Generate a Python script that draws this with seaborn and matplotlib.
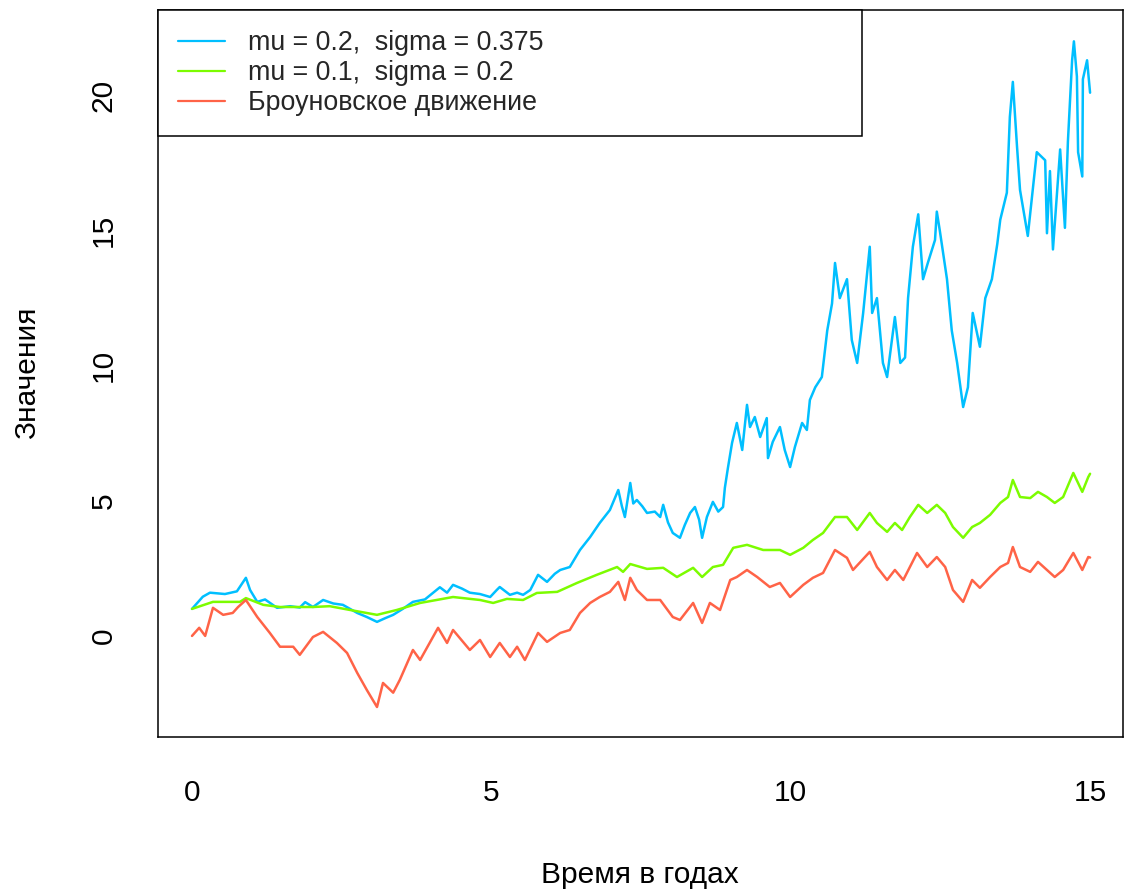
import matplotlib
matplotlib.use("Agg")
import matplotlib.pyplot as plt
import numpy as np
import pandas as pd
import seaborn as sns

# Geometric Brownian motion, mu = 0.2, sigma = 0.375
t_fast = [0.00, 0.18, 0.30, 0.55, 0.75, 0.90, 0.97, 1.09, 1.22, 1.42, 1.64, 1.80, 1.89, 2.02,
          2.19, 2.36, 2.52, 2.76, 2.92, 3.09, 3.22, 3.36, 3.52, 3.69, 3.89, 4.14, 4.26, 4.36,
          4.51, 4.64, 4.81, 4.98, 5.09, 5.14, 5.31, 5.43, 5.53, 5.65, 5.78, 5.93, 6.06, 6.15,
          6.31, 6.48, 6.65, 6.81, 6.98, 7.12, 7.18, 7.23, 7.32, 7.37, 7.43, 7.52, 7.60, 7.73,
          7.82, 7.87, 7.95, 8.03, 8.15, 8.23, 8.32, 8.40, 8.47, 8.52, 8.60, 8.70, 8.79, 8.87,
          8.90, 8.95, 9.02, 9.10, 9.19, 9.27, 9.32, 9.40, 9.49, 9.60, 9.62, 9.70, 9.82, 9.90,
          9.99, 10.07, 10.19, 10.27, 10.32, 10.41, 10.52, 10.61, 10.69, 10.74, 10.82, 10.94,
          11.02, 11.11, 11.21, 11.32, 11.36, 11.44, 11.54, 11.61, 11.74, 11.83, 11.91, 11.96,
          12.04, 12.13, 12.21, 12.29, 12.41, 12.44, 12.49, 12.61, 12.69, 12.78, 12.88, 12.96,
          13.04, 13.16, 13.25, 13.36, 13.45, 13.50, 13.61, 13.66, 13.71, 13.78, 13.83, 13.96,
          14.11, 14.25, 14.28, 14.33, 14.38, 14.50, 14.58, 14.63, 14.70, 14.73, 14.78, 14.80,
          14.87, 14.88, 14.95, 15.00]
v_fast = [1.00, 1.45, 1.60, 1.55, 1.65, 2.15, 1.70, 1.26, 1.35, 1.04, 1.10, 1.05, 1.25, 1.07,
          1.33, 1.20, 1.15, 0.85, 0.70, 0.52, 0.65, 0.78, 1.00, 1.26, 1.35, 1.80, 1.60, 1.89,
          1.75, 1.60, 1.55, 1.44, 1.70, 1.81, 1.52, 1.60, 1.52, 1.70, 2.26, 2.00, 2.30, 2.44,
          2.55, 3.18, 3.66, 4.18, 4.66, 5.40, 4.80, 4.40, 5.66, 4.90, 5.03, 4.80, 4.55, 4.60,
          4.40, 4.85, 4.20, 3.81, 3.63, 4.10, 4.55, 4.77, 4.30, 3.63, 4.40, 4.96, 4.60, 4.77,
          5.48, 6.20, 7.14, 7.88, 6.88, 8.55, 7.73, 8.10, 7.36, 8.06, 6.58, 7.18, 7.73, 6.88,
          6.25, 6.99, 7.88, 7.62, 8.73, 9.20, 9.58, 11.30, 12.30, 13.80, 12.50, 13.20,
          10.95, 10.10, 11.95, 14.40, 11.95, 12.50, 10.10, 9.58, 11.80, 10.10, 10.30, 12.50,
          14.40, 15.60, 13.20, 13.80, 14.65, 15.70, 15.00, 13.20, 11.30, 10.10, 8.47, 9.20,
          11.95, 10.70, 12.50, 13.20, 14.50, 15.40, 16.40, 19.20, 20.50, 18.10, 16.50, 14.80,
          17.90, 17.60, 14.90, 17.20, 14.30, 18.00, 15.10, 18.30, 21.30, 22.00, 20.70, 17.90,
          17.00, 20.60, 21.30, 20.10]

# Geometric Brownian motion, mu = 0.1, sigma = 0.2
t_slow = [0.00, 0.35, 0.80, 0.90, 1.19, 1.47, 2.02, 2.30, 2.64, 3.09, 3.42, 3.81, 4.36, 4.81,
          5.03, 5.26, 5.53, 5.76, 6.10, 6.43, 6.76, 7.10, 7.20, 7.32, 7.60, 7.87, 8.10, 8.37,
          8.52, 8.70, 8.87, 9.04, 9.27, 9.54, 9.82, 9.99, 10.21, 10.37, 10.54, 10.74, 10.94,
          11.11, 11.32, 11.44, 11.61, 11.74, 11.86, 11.99, 12.13, 12.28, 12.44, 12.58, 12.71,
          12.88, 13.03, 13.16, 13.33, 13.50, 13.63, 13.71, 13.83, 14.00, 14.13, 14.28, 14.41,
          14.55, 14.72, 14.87, 14.97, 15.00]
v_slow = [1.00, 1.26, 1.26, 1.40, 1.15, 1.07, 1.07, 1.10, 0.96, 0.78, 0.96, 1.22, 1.44, 1.33,
          1.22, 1.37, 1.33, 1.59, 1.63, 1.96, 2.26, 2.55, 2.37, 2.66, 2.48, 2.52, 2.18, 2.52,
          2.18, 2.55, 2.63, 3.26, 3.37, 3.18, 3.18, 3.00, 3.26, 3.55, 3.81, 4.40, 4.40,
          3.92, 4.55, 4.18, 3.85, 4.18, 3.92, 4.40, 4.85, 4.55, 4.85, 4.55, 4.03,
          3.63, 4.03, 4.18, 4.48, 4.92, 5.14, 5.77, 5.14, 5.10, 5.33, 5.14, 4.92,
          5.14, 6.03, 5.33, 5.88, 6.00]

# Standard Brownian motion
t_bm = [0.00, 0.12, 0.22, 0.35, 0.52, 0.68, 0.77, 0.90, 1.09, 1.30, 1.47, 1.69, 1.80, 2.02,
        2.19, 2.42, 2.59, 2.76, 2.92, 3.09, 3.19, 3.36, 3.47, 3.69, 3.81, 4.11, 4.26, 4.36,
        4.64, 4.81, 4.98, 5.14, 5.31, 5.43, 5.56, 5.78, 5.93, 6.15, 6.31, 6.48, 6.65, 6.81,
        6.98, 7.12, 7.23, 7.32, 7.43, 7.60, 7.82, 8.03, 8.15, 8.37, 8.52, 8.65, 8.82, 8.99,
        9.10, 9.27, 9.44, 9.65, 9.82, 9.99, 10.21, 10.37, 10.54, 10.74, 10.94, 11.04, 11.32,
        11.44, 11.61, 11.74, 11.88, 12.11, 12.28, 12.44, 12.58, 12.71, 12.88, 13.03, 13.16,
        13.33, 13.50, 13.63, 13.71, 13.83, 14.00, 14.13, 14.28, 14.41, 14.55, 14.72, 14.87,
        14.97, 15.00]
v_bm = [0.00, 0.30, 0.00, 1.04, 0.78, 0.85, 1.07, 1.33, 0.70, 0.11, -0.40, -0.40, -0.70, -0.04,
        0.15, -0.26, -0.63, -1.37, -2.00, -2.63, -1.74, -2.10, -1.63, -0.52, -0.89, 0.30, -0.26, 0.22,
        -0.52, -0.15, -0.78, -0.26, -0.78, -0.40, -0.89, 0.11, -0.22, 0.11, 0.22, 0.85, 1.22, 1.44,
        1.63, 2.00, 1.33, 2.15, 1.70, 1.33, 1.33, 0.70, 0.59, 1.22, 0.48, 1.22, 0.96, 2.07,
        2.18, 2.44, 2.18, 1.81, 1.96, 1.44, 1.89, 2.15, 2.33, 3.18, 2.89, 2.44, 3.11,
        2.55, 2.07, 2.44, 2.07, 3.07, 2.55, 2.92, 2.55, 1.70, 1.26, 2.07, 1.78,
        2.18, 2.55, 2.70, 3.29, 2.55, 2.37, 2.74, 2.44, 2.18, 2.44, 3.07, 2.44,
        2.92, 2.90]

labels = ["mu = 0.2,  sigma = 0.375", "mu = 0.1,  sigma = 0.2", "Броуновское движение"]
colors = ["#00BFFF", "#7CFC00", "#FF6347"]
x_ticks = [0, 5, 10, 15]
y_ticks = [0, 5, 10, 15, 20]

sns.set_style("white")
plt.rcParams["font.family"] = ["Liberation Sans", "DejaVu Sans"]

fig = plt.figure(figsize=(11.24, 8.91), dpi=100)
ax = fig.add_axes([158 / 1124, 1 - 737 / 891, (1123 - 158) / 1124, (737 - 10) / 891])

series = [(t_fast, v_fast), (t_slow, v_slow), (t_bm, v_bm)]
for (t, v), lab, col in zip(series, labels, colors):
    df = pd.DataFrame({"t": t, "v": v})
    sns.lineplot(data=df, x="t", y="v", ax=ax, color=col, linewidth=1.8,
                 label=lab, sort=False, estimator=None)

ax.set_xlim(-0.568, 15.55)
ax.set_ylim(-3.74, 23.16)
ax.set_xticks(x_ticks)
ax.set_yticks(y_ticks)
ax.set_xticklabels([str(v) for v in x_ticks])
ax.set_yticklabels([str(v) for v in y_ticks], rotation=90, va="center")
ax.tick_params(axis="both", which="both", direction="out", length=13, width=1.1,
               color="black", labelsize=21.5, labelcolor="black")
ax.tick_params(axis="x", pad=17)
ax.tick_params(axis="y", pad=16)
for s in ax.spines.values():
    s.set_color("black")
    s.set_linewidth(1.1)

ax.set_xlabel("Время в годах", fontsize=21.5, color="black")
ax.set_ylabel("Значения", fontsize=21.5, color="black", va="center")
ax.xaxis.set_label_coords((640 - 158) / 965, -(861 - 737) / 727)
ax.yaxis.set_label_coords((27 - 158) / 965, (737 - 373) / 727)

leg = ax.legend(loc="upper left", bbox_to_anchor=(0, 0, 704 / 965, 1), mode="expand",
                borderaxespad=0, fancybox=False, frameon=True, fontsize=19.3,
                handlelength=1.75, handletextpad=0.86, borderpad=0.75, labelspacing=0.15)
frame = leg.get_frame()
frame.set_edgecolor("black")
frame.set_linewidth(1.1)
frame.set_alpha(1)
for h in leg.get_lines():
    h.set_linewidth(1.6)

fig.savefig("out.png", dpi=100, facecolor="white")
